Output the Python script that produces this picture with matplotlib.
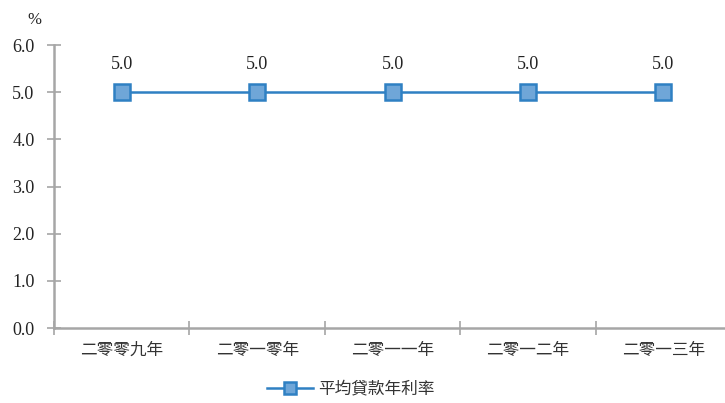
import matplotlib.pyplot as plt
import numpy as np

years = ["二零零九年", "二零一零年", "二零一一年", "二零一二年", "二零一三年"]
rates = [5.0, 5.0, 5.0, 5.0, 5.0]
series_name = "平均貸款年利率"
y_ticks = [0.0, 1.0, 2.0, 3.0, 4.0, 5.0, 6.0]

serif = ["Liberation Serif", "DejaVu Serif"]
cjk = ["Noto Sans CJK TC", "DejaVu Sans"]
axis_gray = "#a6a6a6"
line_blue = "#2f80c3"
face_blue = "#6fa6d8"

fig = plt.figure(figsize=(7.25, 4.03), dpi=100)
ax = fig.add_axes([0.0745, 0.186, 0.934, 0.702])

x = np.arange(len(years))
ax.plot(x, rates, color=line_blue, lw=1.8, marker="s", markersize=11.5,
        markerfacecolor=face_blue, markeredgecolor=line_blue,
        markeredgewidth=1.8, label=series_name, clip_on=False, zorder=3)

for xi, v in zip(x, rates):
    ax.annotate(f"{v:.1f}", (xi, v), xytext=(0, 20), textcoords="offset points",
                ha="center", va="center", fontsize=13, family=serif, color="#222222")

ax.set_xlim(-0.5, len(years) - 0.5)
ax.set_ylim(0, 6)
ax.set_yticks(y_ticks)
ax.set_yticklabels([f"{t:.1f}" for t in y_ticks], family=serif, fontsize=13, color="#222222")
ax.set_xticks(x)
ax.set_xticklabels(years, family=cjk, fontsize=12, color="#333333")
ax.set_xticks(np.arange(len(years) + 1) - 0.5, minor=True)

for side in ["top", "right"]:
    ax.spines[side].set_visible(False)
for side in ["left", "bottom"]:
    ax.spines[side].set_color(axis_gray)
    ax.spines[side].set_linewidth(1.8)
    ax.spines[side].set_clip_on(False)

ax.tick_params(axis="x", which="major", length=0, pad=10)
ax.tick_params(axis="x", which="minor", direction="inout", length=10,
               width=1.2, color=axis_gray)
ax.tick_params(axis="y", direction="inout", length=10, width=1.2,
               color=axis_gray, pad=9)

fig.text(0.048, 0.95, "%", family=serif, fontsize=12, color="#222222",
         ha="center", va="center")

ax.legend(loc="center", bbox_to_anchor=(0.438, -0.215), frameon=False,
          prop={"family": cjk, "size": 12}, handlelength=2.8, markerscale=0.7,
          handletextpad=0.3, labelcolor="#333333")

fig.savefig("out.png", dpi=100)
